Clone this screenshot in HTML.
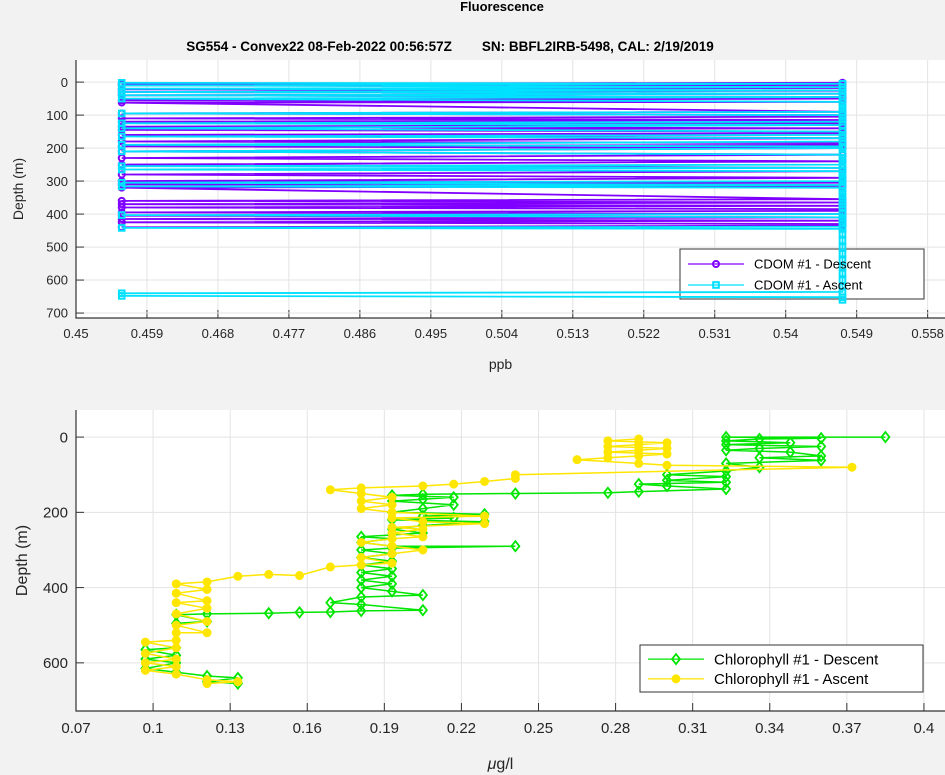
<!DOCTYPE html>
<html><head><meta charset="utf-8">
<style>
html,body{margin:0;padding:0;background:#f2f2f2;}
svg{display:block;font-family:"Liberation Sans",sans-serif;}
</style></head>
<body>
<svg id="fig" width="945" height="775" viewBox="0 0 945 775" xmlns="http://www.w3.org/2000/svg">
<rect x="0" y="0" width="945" height="775" fill="#f2f2f2"/>
<text x="502" y="11" font-size="13" font-weight="bold" text-anchor="middle" fill="#000">Fluorescence</text>
<text x="450" y="51" font-size="13.5" font-weight="bold" text-anchor="middle" fill="#000" xml:space="preserve">SG554 - Convex22 08-Feb-2022 00:56:57Z        SN: BBFL2IRB-5498, CAL: 2/19/2019</text>
<g id="top"></g>
<g id="bot"></g>
</svg>
<script>
// ---- CDOM data (top panel) ----
const cdomDescDepth=[2,5,8,10,14,18,22,26,30,35,40,45,50,55,60,62,90,95,100,105,110,115,120,125,130,135,140,145,150,155,160,170,180,185,190,195,200,210,220,230,240,250,260,270,280,290,300,305,310,315,320,355,360,365,370,375,380,385,390,395,400,405,410,415,420,425,430,435,440];
const cdomDescVal=[0.5472,0.4558,0.5472,0.4558,0.5472,0.5472,0.4558,0.5472,0.4558,0.5472,0.4558,0.5472,0.5472,0.4558,0.5472,0.4558,0.5472,0.4558,0.5472,0.5472,0.4558,0.5472,0.4558,0.5472,0.5472,0.4558,0.5472,0.4558,0.5472,0.5472,0.4558,0.5472,0.4558,0.5472,0.5472,0.4558,0.5472,0.4558,0.5472,0.4558,0.5472,0.4558,0.5472,0.5472,0.4558,0.5472,0.4558,0.5472,0.4558,0.5472,0.4558,0.5472,0.4558,0.5472,0.4558,0.5472,0.4558,0.5472,0.5472,0.4558,0.5472,0.4558,0.5472,0.4558,0.5472,0.4558,0.5472,0.5472,0.4558];
const cdomAscDepth=[660,652,648,640,636,620,600,580,560,540,520,500,480,460,445,442,438,430,420,410,403,400,395,380,370,360,350,340,330,320,316,312,305,300,295,290,280,270,265,260,255,250,240,230,220,210,200,195,190,180,170,165,160,150,140,130,125,120,110,100,95,90,80,70,60,50,45,40,35,30,25,20,15,10,5,2];
const cdomAscVal=[0.5472,0.5472,0.4558,0.4558,0.5472,0.5472,0.5472,0.5472,0.5472,0.5472,0.5472,0.5472,0.5472,0.5472,0.5472,0.4558,0.5472,0.5472,0.5472,0.5472,0.4558,0.5472,0.5472,0.5472,0.5472,0.5472,0.5472,0.5472,0.5472,0.5472,0.4558,0.5472,0.4558,0.5472,0.5472,0.5472,0.5472,0.5472,0.4558,0.5472,0.4558,0.5472,0.5472,0.5472,0.5472,0.4558,0.5472,0.5472,0.4558,0.5472,0.5472,0.4558,0.5472,0.5472,0.4558,0.5472,0.4558,0.5472,0.5472,0.5472,0.4558,0.5472,0.5472,0.5472,0.5472,0.4558,0.5472,0.4558,0.5472,0.4558,0.5472,0.4558,0.5472,0.4558,0.5472,0.4558];
const topXTicks=[0.45,0.459,0.468,0.477,0.486,0.495,0.504,0.513,0.522,0.531,0.54,0.549,0.558];
const topXTickLabels=["0.45","0.459","0.468","0.477","0.486","0.495","0.504","0.513","0.522","0.531","0.54","0.549","0.558"];
const topYTicks=[0,100,200,300,400,500,600,700];
// ---- Chlorophyll data (bottom panel) ----
const chlDescVal=[0.385,0.323,0.36,0.336,0.323,0.348,0.323,0.36,0.336,0.323,0.348,0.36,0.336,0.36,0.323,0.336,0.323,0.3,0.323,0.3,0.323,0.289,0.3,0.323,0.289,0.277,0.241,0.205,0.193,0.217,0.205,0.193,0.217,0.205,0.193,0.229,0.205,0.217,0.193,0.229,0.205,0.193,0.205,0.181,0.193,0.181,0.193,0.241,0.193,0.181,0.193,0.181,0.193,0.181,0.193,0.181,0.193,0.181,0.193,0.181,0.193,0.205,0.181,0.169,0.181,0.205,0.181,0.169,0.157,0.145,0.121,0.109,0.121,0.109,0.109,0.097,0.109,0.097,0.109,0.097,0.109,0.121,0.133,0.121,0.133];
const chlDescDepth=[0,0,3,5,10,15,20,25,30,35,40,50,55,62,70,80,90,100,105,115,120,125,130,138,145,148,150,152,155,160,165,170,180,190,200,205,210,215,220,225,235,245,255,265,270,280,290,290,295,300,310,320,330,340,350,360,370,380,390,400,410,420,425,440,445,460,462,465,466,468,470,472,490,495,560,565,580,590,600,615,625,635,640,650,655];
const chlAscVal=[0.121,0.133,0.121,0.109,0.097,0.109,0.097,0.109,0.097,0.109,0.097,0.109,0.109,0.121,0.109,0.121,0.109,0.121,0.109,0.121,0.109,0.121,0.109,0.121,0.133,0.145,0.157,0.169,0.181,0.193,0.181,0.193,0.205,0.193,0.181,0.193,0.205,0.193,0.205,0.193,0.229,0.205,0.193,0.229,0.193,0.181,0.193,0.181,0.193,0.181,0.169,0.181,0.205,0.217,0.229,0.241,0.241,0.372,0.3,0.289,0.265,0.277,0.289,0.3,0.277,0.289,0.3,0.277,0.289,0.3,0.277,0.289];
const chlAscDepth=[655,650,645,630,620,610,600,590,575,560,545,540,520,520,500,490,470,455,440,435,415,405,390,385,370,365,368,345,340,335,320,310,300,290,280,270,265,255,245,240,230,225,215,210,200,190,180,170,160,150,140,135,130,125,118,110,100,80,75,70,60,55,50,45,40,35,30,25,20,15,10,5];
const botXTicks=[0.07,0.1,0.13,0.16,0.19,0.22,0.25,0.28,0.31,0.34,0.37,0.4];
const botXTickLabels=["0.07","0.1","0.13","0.16","0.19","0.22","0.25","0.28","0.31","0.34","0.37","0.4"];
const botYTicks=[0,200,400,600];

const NS="http://www.w3.org/2000/svg";
function mk(parent,tag,attrs){const e=document.createElementNS(NS,tag);for(const k in attrs)e.setAttribute(k,attrs[k]);parent.appendChild(e);return e;}

function panel(g,o){
  const sx=v=>o.x0+(v-o.xmin)/(o.xmax-o.xmin)*(o.x1-o.x0);
  const sy=d=>o.y0+(d-o.ymin)/(o.ymax-o.ymin)*(o.y1-o.y0);
  const bg=mk(g,'rect',{x:o.x0,y:o.y0,width:o.x1-o.x0,height:o.y1-o.y0,fill:'#fff'});
  
  
  o.xt.forEach((t,i)=>{
    const x=sx(t);
    const gl=mk(g,'line',{x1:x,x2:x,y1:o.y0,y2:o.y1,stroke:'#e3e3e3','stroke-width':1});
    
    
    mk(g,'line',{x1:x,x2:x,y1:o.y1,y2:o.y1-8,stroke:'#333','stroke-width':1});
    const tl=mk(g,'text',{x:x,y:o.y1+o.fs+7,'font-size':o.fs,'text-anchor':'middle',fill:'#262626'});
    tl.textContent=o.xl[i];
    
    
  });
  o.yt.forEach(t=>{
    const y=sy(t);
    const gl=mk(g,'line',{x1:o.x0,x2:o.x1,y1:y,y2:y,stroke:'#e3e3e3','stroke-width':1});
    
    
    mk(g,'line',{x1:o.x0,x2:o.x0+8,y1:y,y2:y,stroke:'#333','stroke-width':1});
    const tl=mk(g,'text',{x:o.x0-8,y:y+o.fs*0.36,'font-size':o.fs,'text-anchor':'end',fill:'#262626'});
    tl.textContent=String(t);
    
    
  });
  const ax=mk(g,'path',{d:`M${o.x0},${o.y0}V${o.y1}H${o.x1}`,fill:'none',stroke:'#333','stroke-width':1.2});
  
  
  const xt=mk(g,'text',{x:(o.x0+o.x1)/2-10,y:o.xty,'font-size':o.fs+1,'text-anchor':'middle',fill:'#262626'});
  xt.innerHTML=o.xtitle;
  
  
  const yt=mk(g,'text',{x:0,y:0,'font-size':o.fs+1,'text-anchor':'middle',fill:'#262626',transform:`translate(${o.ytx},${(o.y0+o.y1)/2}) rotate(-90)`});
  yt.textContent='Depth (m)';
  
  
  const L=o.leg;
  const lb=mk(g,'rect',{x:L.x,y:L.y,width:L.w,height:L.h,fill:'#fff',stroke:'#333','stroke-width':1});
  
  
  o.series.forEach(s=>{
    const pts=s.vals.map((v,i)=>sx(v).toFixed(1)+','+sy(s.depth[i]).toFixed(1)).join(' ');
    const pl=mk(g,'polyline',{points:pts,fill:'none',stroke:s.color,'stroke-width':o.lw});
    
    
    s.vals.forEach((v,i)=>{
      const m=marker(g,s.mk,sx(v),sy(s.depth[i]),s.color);
      
      
    });
  });
  o.series.forEach((s,i)=>{
    const y=L.y+L.h*(i===0?0.3:0.72);
    mk(g,'line',{x1:L.x+8,x2:L.x+64,y1:y,y2:y,stroke:s.color,'stroke-width':1.3});
    const m=marker(g,s.mk,L.x+36,y,s.color);
    
    
    const t=mk(g,'text',{x:L.x+74,y:y+o.fs*0.36,'font-size':o.fs,fill:'#000'});
    t.textContent=s.label;
    
    
  });
}
function marker(g,type,x,y,c){
  if(type==='o')return mk(g,'circle',{cx:x,cy:y,r:3,fill:'none',stroke:c,'stroke-width':2});
  if(type==='s')return mk(g,'rect',{x:x-2.8,y:y-2.8,width:5.6,height:5.6,fill:'none',stroke:c,'stroke-width':2});
  if(type==='d')return mk(g,'path',{d:`M${x},${y-5}L${x+4},${y}L${x},${y+5}L${x-4},${y}Z`,fill:'none',stroke:c,'stroke-width':1.8});
  return mk(g,'circle',{cx:x,cy:y,r:4,fill:c,stroke:c,'stroke-width':1});
}
panel(document.getElementById('top'),{name:'cdom',x0:76,x1:945,y0:60,y1:318,xmin:0.45,xmax:0.5602,ymin:-67,ymax:715,
  xt:topXTicks,xl:topXTickLabels,yt:topYTicks,fs:13,lw:1.8,xtitle:'ppb',xty:369,ytx:23,
  leg:{x:680,y:249,w:244,h:50},
  series:[{id:'cdom-descent',vals:cdomDescVal,depth:cdomDescDepth,color:'#8000ff',mk:'o',label:'CDOM #1 - Descent'},
          {id:'cdom-ascent',vals:cdomAscVal,depth:cdomAscDepth,color:'#00e0ff',mk:'s',label:'CDOM #1 - Ascent'}]});
panel(document.getElementById('bot'),{name:'chlorophyll',x0:76,x1:945,y0:410,y1:711,xmin:0.07,xmax:0.4082,ymin:-72,ymax:728,
  xt:botXTicks,xl:botXTickLabels,yt:botYTicks,fs:15,lw:1.5,xtitle:'<tspan font-style="italic">μ</tspan>g/l',xty:769,ytx:27,
  leg:{x:640,y:645,w:283,h:47},
  series:[{id:'chl-descent',vals:chlDescVal,depth:chlDescDepth,color:'#00e600',mk:'d',label:'Chlorophyll #1 - Descent'},
          {id:'chl-ascent',vals:chlAscVal,depth:chlAscDepth,color:'#ffe600',mk:'f',label:'Chlorophyll #1 - Ascent'}]});
</script>
</body></html>
